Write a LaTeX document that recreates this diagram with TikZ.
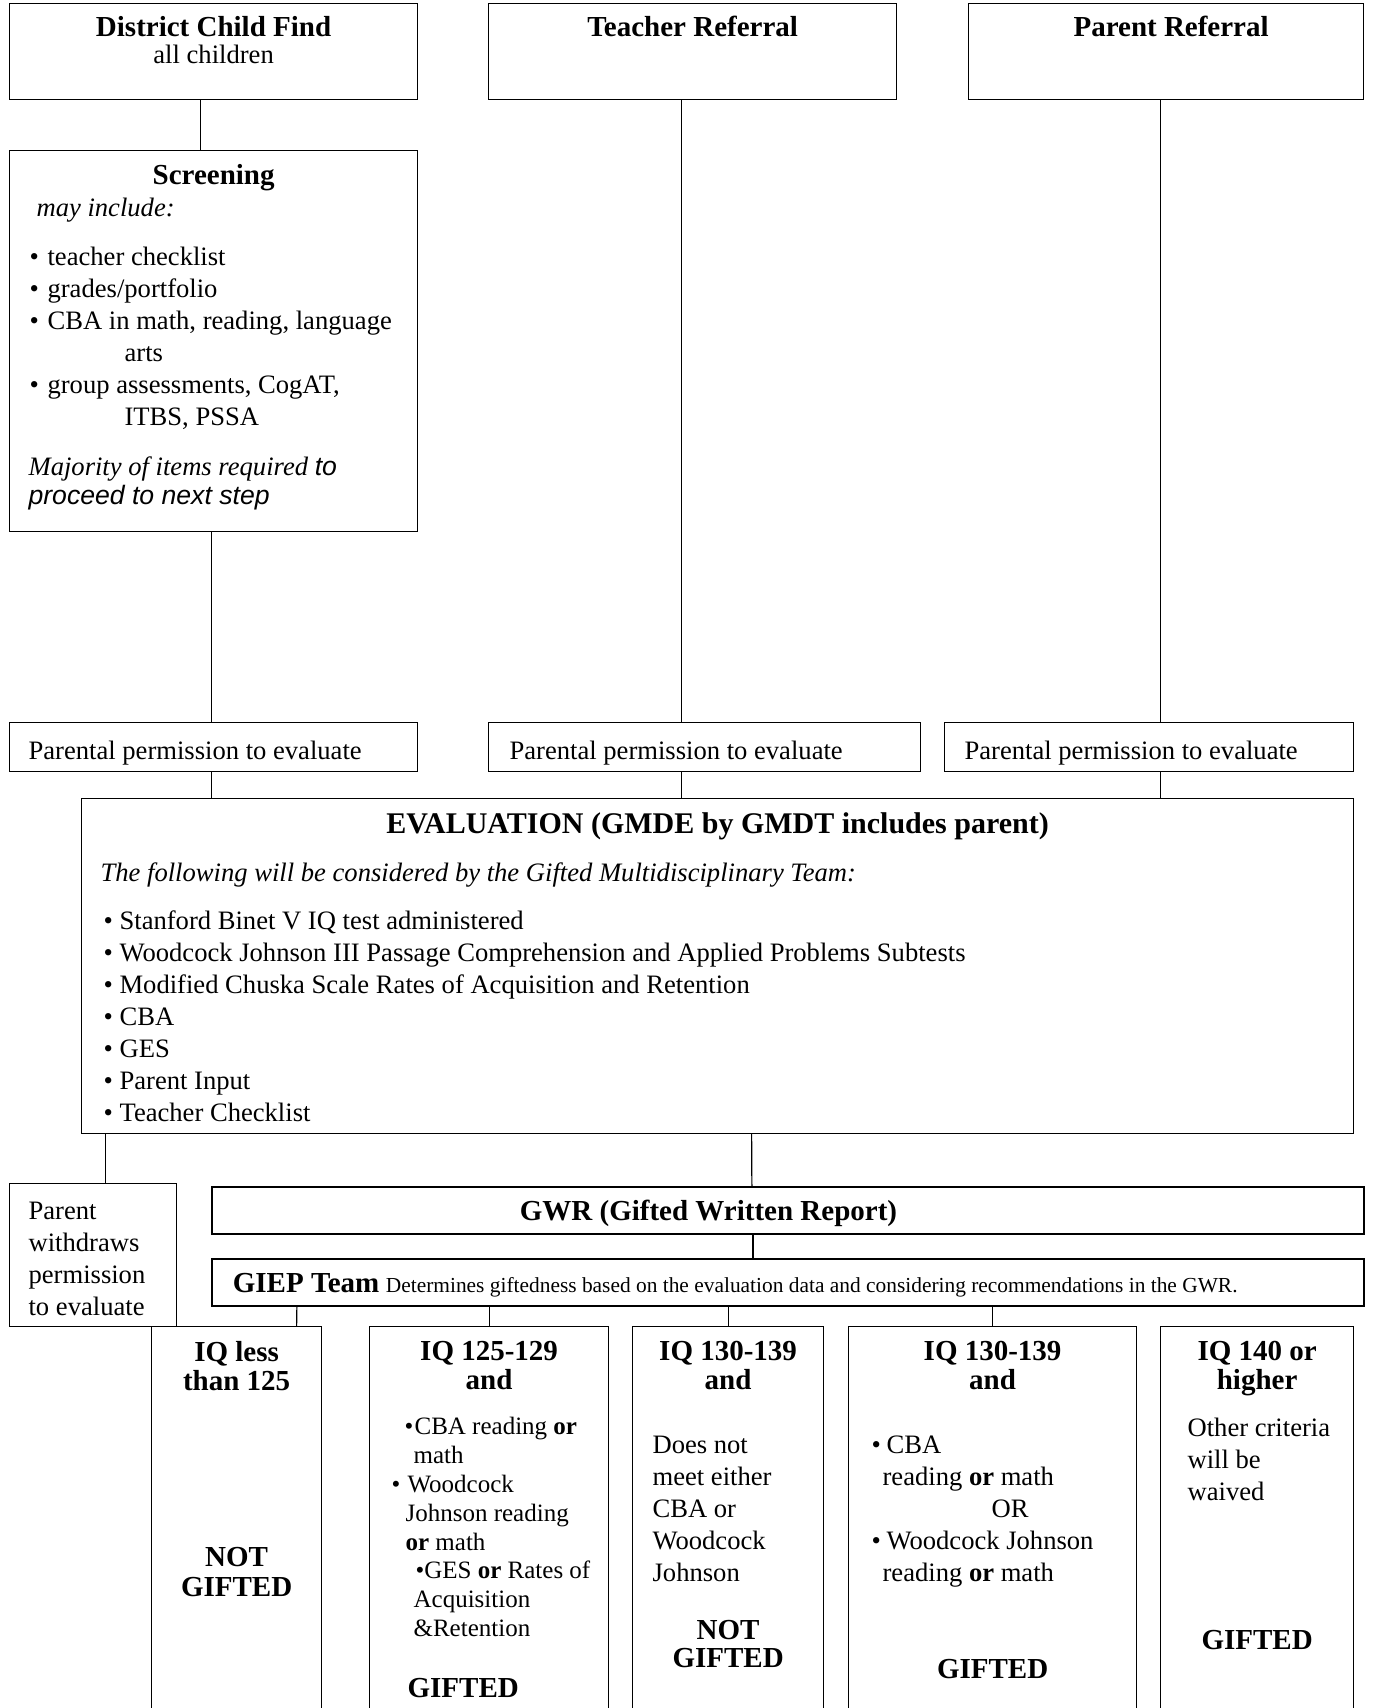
\documentclass[tikz,border=0pt]{standalone}
\usepackage{fontspec}
\setmainfont{Liberation Serif}
\newfontfamily\arialfont{Liberation Sans}

\newcommand{\inbox}[3]{\begin{minipage}[t][#2][t]{#1}\raggedright#3\end{minipage}}
\newcommand{\hdfont}{\bfseries\fontsize{14.5}{14.5}\selectfont}
\newcommand{\smallfont}{\fontsize{12.5}{14.4}\selectfont}

\begin{document}
\begin{tikzpicture}[x=0.5pt,y=-0.5pt,line width=0.6pt]
    \tikzstyle{every node}=[draw,shape=rectangle,inner sep=0pt,anchor=north west,font=\fontsize{13.3}{16}\selectfont];
    \tikzstyle{thick box}=[line width=0.9pt];
    \useasboundingbox (0,0) rectangle (1382,1708);
    \clip (0,0) rectangle (1382,1708);

    % referrals
    \node at (9,3)   (dcf) {\inbox{204pt}{48pt}{\vspace*{6.3pt}{\centering\hdfont District Child Find\\\fontsize{13.3}{13.7}\selectfont\mdseries all children\par}}};
    \node at (488,3) (trf) {\inbox{204pt}{48pt}{\vspace*{6pt}{\centering\hdfont Teacher Referral\par}}};
    \node at (968,3) (prf) {\inbox{197.5pt}{48pt}{\vspace*{6pt}{\centering\hdfont\hspace*{5pt}Parent Referral\par}}};

    \node at (9,150) (scr) {\inbox{204pt}{190.5pt}{\vspace*{7pt}{\centering\hdfont Screening\par}
      \hspace*{13.5pt}\textit{may include:}\par
      \vspace{8.5pt}
      \hspace*{10pt}\makebox[9pt][l]{•}teacher checklist\par
      \hspace*{10pt}\makebox[9pt][l]{•}grades/portfolio\par
      \hspace*{10pt}\makebox[9pt][l]{•}CBA in math, reading, language\par
      \hspace*{57.5pt}arts\par
      \hspace*{10pt}\makebox[9pt][l]{•}group assessments, CogAT,\par
      \hspace*{57.5pt}ITBS, PSSA\par
      \vspace{10.5pt}
      {\fontsize{13.3}{14.5}\selectfont\hspace*{9.5pt}\textit{Majority of items required} {\arialfont\itshape to}\\
      \hspace*{9.5pt}{\arialfont\itshape proceed to next step}\par}}};

    % permission
    \node at (9,722)   (pp1) {\inbox{204pt}{24.5pt}{\vspace*{9.4pt}\hspace*{9.5pt}Parental permission to evaluate}};
    \node at (488,722) (pp2) {\inbox{216pt}{24.5pt}{\vspace*{9.4pt}\hspace*{10.5pt}Parental permission to evaluate}};
    \node at (944,722) (pp3) {\inbox{204.5pt}{24.5pt}{\vspace*{9.4pt}\hspace*{10pt}Parental permission to evaluate}};

    % evaluation
    \node at (81,798) (eval) {\inbox{636pt}{167.5pt}{\vspace*{7pt}{\centering\bfseries\fontsize{15}{14.5}\selectfont EVALUATION (GMDE by GMDT includes parent)\par}
      \vspace{8pt}
      \hspace*{9.5pt}\textit{The following will be considered by the Gifted Multidisciplinary Team:}\par
      \vspace{8pt}
      \hspace*{11pt}\makebox[8pt][l]{•}Stanford Binet V IQ test administered\par
      \hspace*{11pt}\makebox[8pt][l]{•}Woodcock Johnson III Passage Comprehension and Applied Problems Subtests\par
      \hspace*{11pt}\makebox[8pt][l]{•}Modified Chuska Scale Rates of Acquisition and Retention\par
      \hspace*{11pt}\makebox[8pt][l]{•}CBA\par
      \hspace*{11pt}\makebox[8pt][l]{•}GES\par
      \hspace*{11pt}\makebox[8pt][l]{•}Parent Input\par
      \hspace*{11pt}\makebox[8pt][l]{•}Teacher Checklist\par}};

    \node at (9,1183) (pwd) {\inbox{83.5pt}{71.5pt}{\vspace*{9pt}\leftskip=9.5pt Parent\\withdraws\\permission\\to evaluate\par}};
    \node[thick box] at (211,1186) (gwr) {\inbox{576pt}{23.5pt}{\vspace*{6.5pt}\hspace*{154pt}{\hdfont GWR (Gifted Written Report)}}};
    \node[thick box] at (211,1258) (giep) {\inbox{576pt}{23.5pt}{\vspace*{7pt}\hspace*{10.5pt}{\hdfont GIEP Team} {\fontsize{10.7}{12}\selectfont Determines giftedness based on the evaluation data and considering recommendations in the GWR.}}};

    % outcomes
    \node at (151,1326) (iq1) {\inbox{85pt}{200pt}{\vspace*{7.5pt}{\centering\hdfont IQ less\\than 125\par}
      \vspace{73pt}
      {\centering\bfseries\fontsize{14.5}{15}\selectfont NOT\\GIFTED\par}}};
    \node at (369,1326) (iq2) {\inbox{119.5pt}{200pt}{\vspace*{7.5pt}{\centering\hdfont IQ 125-129\\and\par}
      \vspace{8.1pt}
      {\smallfont\hspace*{17.5pt}\makebox[5pt][l]{•}CBA reading \textbf{or}\\
      \hspace*{22pt}math\\
      \hspace*{11pt}\makebox[8pt][l]{•}Woodcock\\
      \hspace*{18pt}Johnson reading\\
      \hspace*{18pt}\textbf{or} math\\
      \hspace*{23pt}•GES \textbf{or} Rates of\\
      \hspace*{22pt}Acquisition\\
      \hspace*{22pt}\&Retention\par}
      \vspace{16pt}
      {\hdfont\hspace*{19pt}GIFTED\par}}};
    \node at (632,1326) (iq3) {\inbox{95.5pt}{200pt}{\vspace*{7.5pt}{\centering\hdfont IQ 130-139\\and\par}
      \vspace{16pt}
      {\leftskip=10pt Does not\\meet either\\CBA or\\Woodcock\\Johnson\par}
      \vspace{15pt}
      {\centering\bfseries\fontsize{14.5}{14}\selectfont NOT\\GIFTED\par}}};
    \node at (848,1326) (iq4) {\inbox{144pt}{200pt}{\vspace*{7.5pt}{\centering\hdfont IQ 130-139\\and\par}
      \vspace{16pt}
      \hspace*{11.5pt}\makebox[7.5pt][l]{•}CBA\\
      \hspace*{17pt}reading \textbf{or} math\\
      \hspace*{71.5pt}OR\\
      \hspace*{11.5pt}\makebox[7.5pt][l]{•}Woodcock Johnson\\
      \hspace*{17pt}reading \textbf{or} math\par
      \vspace{33.5pt}
      {\centering\bfseries\fontsize{14.5}{15}\selectfont GIFTED\par}}};
    \node at (1160,1326) (iq5) {\inbox{96.5pt}{200pt}{\vspace*{7.5pt}{\centering\hdfont IQ 140 or\\higher\par}
      \vspace{7.5pt}
      {\leftskip=13.5pt Other criteria\\will be\\waived\par}
      \vspace{59.5pt}
      {\centering\bfseries\fontsize{14.5}{15}\selectfont GIFTED\par}}};

    % connectors
    \draw ([xshift=-6.5pt]dcf.south) -- ([xshift=-6.5pt]scr.north);
    \draw ([xshift=-1pt]scr.south) -- ([xshift=-1pt]pp1.north);
    \draw ([xshift=-5.5pt]trf.south) -- ([xshift=-11.5pt]pp2.north);
    \draw ([xshift=-2.75pt]prf.south) -- ([xshift=5.75pt]pp3.north);
    \draw ([xshift=-1pt]pp1.south) -- ([xshift=-253pt]eval.north);
    \draw ([xshift=-11.5pt]pp2.south) -- ([xshift=-18pt]eval.north);
    \draw ([xshift=5.75pt]pp3.south) -- ([xshift=221.5pt]eval.north);
    \draw ([xshift=-306pt]eval.south) -- ([xshift=6.25pt]pwd.north);
    \draw ([xshift=17pt]eval.south) -- ([xshift=-18pt]gwr.north);
    \draw ([xshift=-17.5pt]gwr.south) -- ([xshift=-17.5pt]giep.north);
    \draw ([xshift=-245.5pt]giep.south) -- ([xshift=30pt]iq1.north);
    \draw (giep.south -| iq2.north) -- (iq2.north);
    \draw (giep.south -| iq3.north) -- (iq3.north);
    \draw (giep.south -| iq4.north) -- (iq4.north);
\end{tikzpicture}
\end{document}
